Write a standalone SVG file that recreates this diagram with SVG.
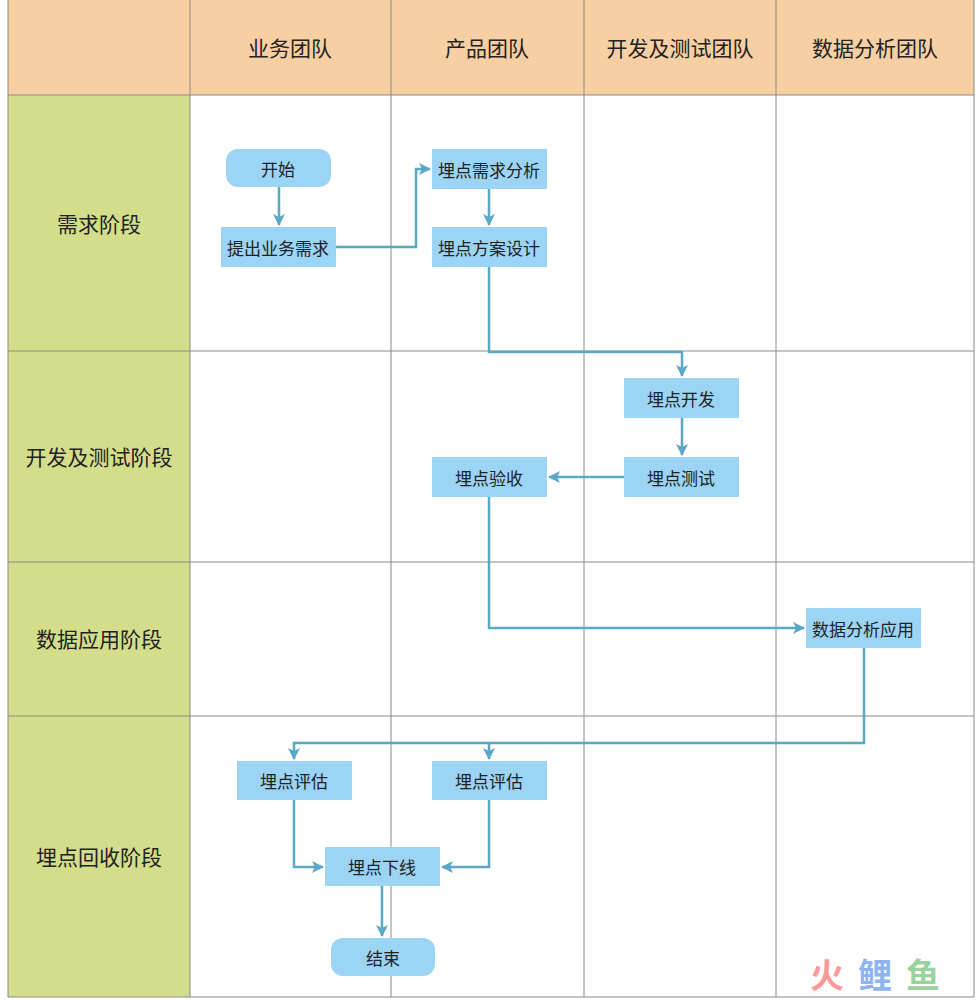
<svg xmlns="http://www.w3.org/2000/svg" width="978" height="1002" viewBox="0 0 978 1002">
<style>
.hd{fill:#F8CFA3}.lf{fill:#D4DE8A}
.gl{stroke:#8a8a8a;stroke-width:1;fill:none}
.n{fill:#9BD4F5}
.t{font-family:"Noto Sans CJK SC",sans-serif;font-size:17px;fill:#222;text-anchor:middle;dominant-baseline:central}
.h{font-family:"Noto Sans CJK SC",sans-serif;font-size:21px;fill:#222;text-anchor:middle;dominant-baseline:central}
.c{stroke:#5AA7C6;stroke-width:2.5;fill:none;marker-end:url(#a)}
</style>
<defs><marker id="a" markerWidth="12" markerHeight="12" refX="11" refY="6" orient="auto" markerUnits="userSpaceOnUse"><path d="M0,0 L12,6 L0,12 L3,6 Z" fill="#5AA7C6"/></marker></defs>
<rect width="978" height="1002" fill="#fff"/>
<g id="grid">
<rect class="hd" x="8" y="0" width="966" height="95"/>
<rect class="lf" x="8" y="95" width="182" height="902"/>
<path class="gl" d="M8,0V997H974V0M190,0V997M391,0V997M584,0V997M776,0V997M8,95H974M8,351H974M8,562H974M8,716H974"/>
<text class="h" x="290" y="47">业务团队</text>
<text class="h" x="487" y="47">产品团队</text>
<text class="h" x="680" y="47">开发及测试团队</text>
<text class="h" x="875" y="47">数据分析团队</text>
<text class="h" x="99" y="223">需求阶段</text>
<text class="h" x="99" y="456">开发及测试阶段</text>
<text class="h" x="99" y="638">数据应用阶段</text>
<text class="h" x="99" y="856">埋点回收阶段</text>
</g>
<g id="connectors">
<path class="c" d="M279,187V225"/>
<path class="c" d="M336,247H416V169H430"/>
<path class="c" d="M489,189V225"/>
<path class="c" d="M489,267V352H682V376"/>
<path class="c" d="M682,418V455"/>
<path class="c" d="M624,477H549"/>
<path class="c" d="M489,497V628H804"/>
<path class="c" d="M864,648V743H294V759"/>
<path class="c" d="M489,743V759"/>
<path class="c" d="M294,800V867H323"/>
<path class="c" d="M489,800V867H442"/>
<path class="c" d="M382,886V936"/>
</g>
<g id="n1"><rect class="n" x="226" y="149" width="105" height="38" rx="12"/><text class="t" x="278" y="168">开始</text></g>
<g id="n2"><rect class="n" x="221" y="227" width="115" height="40"/><text class="t" x="278" y="247">提出业务需求</text></g>
<g id="n3"><rect class="n" x="432" y="149" width="115" height="40"/><text class="t" x="489" y="169">埋点需求分析</text></g>
<g id="n4"><rect class="n" x="432" y="227" width="115" height="40"/><text class="t" x="489" y="247">埋点方案设计</text></g>
<g id="n5"><rect class="n" x="624" y="378" width="115" height="40"/><text class="t" x="681" y="398">埋点开发</text></g>
<g id="n6"><rect class="n" x="624" y="457" width="115" height="40"/><text class="t" x="681" y="477">埋点测试</text></g>
<g id="n7"><rect class="n" x="432" y="457" width="115" height="40"/><text class="t" x="489" y="477">埋点验收</text></g>
<g id="n8"><rect class="n" x="806" y="608" width="115" height="40"/><text class="t" x="863" y="628">数据分析应用</text></g>
<g id="n9"><rect class="n" x="237" y="761" width="115" height="39"/><text class="t" x="294" y="780">埋点评估</text></g>
<g id="n10"><rect class="n" x="432" y="761" width="115" height="39"/><text class="t" x="489" y="780">埋点评估</text></g>
<g id="n11"><rect class="n" x="325" y="847" width="115" height="39"/><text class="t" x="382" y="866">埋点下线</text></g>
<g id="n12"><rect class="n" x="331" y="938" width="104" height="38" rx="12"/><text class="t" x="383" y="957">结束</text></g>
<g id="wm" font-family="Noto Sans CJK SC,sans-serif" font-size="34" font-weight="bold">
<text x="810" y="988" fill="#F99">火</text><text x="858" y="988" fill="#8FB4F2">鲤</text><text x="906" y="988" fill="#9BD39F">鱼</text>
</g>
</svg>
